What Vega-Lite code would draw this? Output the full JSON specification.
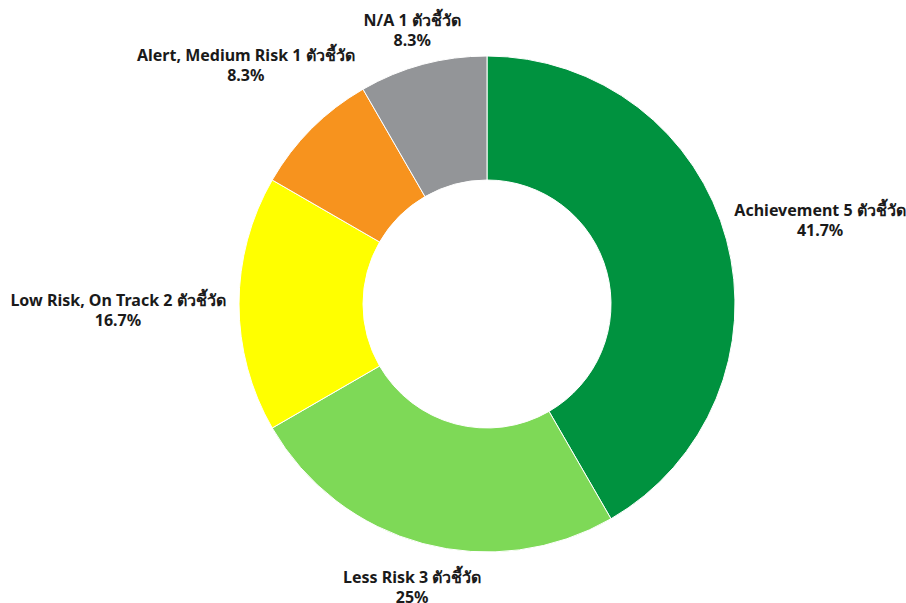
{
  "$schema": "https://vega.github.io/schema/vega-lite/v6.json",
  "width": 838,
  "height": 598,
  "padding": {"left": 68, "top": 5, "right": 0, "bottom": 0},
  "autosize": {"type": "none"},
  "background": "white",
  "config": {"view": {"stroke": null}},
  "data": {
    "values": [
      {"cat": "Achievement", "count": 5, "order": 1, "lines": ["Achievement 5 ตัวชี้วัด", "41.7%"]},
      {"cat": "Less Risk", "count": 3, "order": 2, "lines": ["Less Risk 3 ตัวชี้วัด", "25%"]},
      {"cat": "Low Risk, On Track", "count": 2, "order": 3, "lines": ["Low Risk, On Track 2 ตัวชี้วัด", "16.7%"]},
      {"cat": "Alert, Medium Risk", "count": 1, "order": 4, "lines": ["Alert, Medium Risk 1 ตัวชี้วัด", "8.3%"]},
      {"cat": "N/A", "count": 1, "order": 5, "lines": ["N/A 1 ตัวชี้วัด", "8.3%"]}
    ]
  },
  "transform": [
    {"stack": "count", "groupby": [], "sort": [{"field": "order", "order": "ascending"}], "as": ["t0", "t1"]},
    {"calculate": "(datum.t0 + datum.t1) / 2", "as": "tm"}
  ],
  "layer": [
    {
      "mark": {"type": "arc", "outerRadius": 248, "innerRadius": 124, "stroke": "white", "strokeWidth": 1},
      "encoding": {
        "theta": {"field": "t0", "type": "quantitative", "scale": {"domain": [0, 12]}},
        "theta2": {"field": "t1"},
        "color": {
          "field": "cat", "type": "nominal", "legend": null,
          "scale": {
            "domain": ["Achievement", "Less Risk", "Low Risk, On Track", "Alert, Medium Risk", "N/A"],
            "range": ["#00923F", "#7ED957", "#FFFF00", "#F7931E", "#939598"]
          }
        }
      }
    },
    {
      "transform": [{"filter": "datum.cat === 'Achievement'"}],
      "mark": {"type": "text", "radius": 262, "dx": 80, "dy": -25, "align": "center", "baseline": "middle", "font": "Noto Sans", "fontWeight": "bold", "fontSize": 16, "lineHeight": 20, "color": "#1a1a1a"},
      "encoding": {"theta": {"field": "tm", "type": "quantitative", "scale": {"domain": [0, 12]}}, "text": {"field": "lines"}}
    },
    {
      "transform": [{"filter": "datum.cat === 'Less Risk'"}],
      "mark": {"type": "text", "radius": 262, "dx": -7, "dy": 21, "align": "center", "baseline": "middle", "font": "Noto Sans", "fontWeight": "bold", "fontSize": 16, "lineHeight": 20, "color": "#1a1a1a"},
      "encoding": {"theta": {"field": "tm", "type": "quantitative", "scale": {"domain": [0, 12]}}, "text": {"field": "lines"}}
    },
    {
      "transform": [{"filter": "datum.cat === 'Low Risk, On Track'"}],
      "mark": {"type": "text", "radius": 262, "dx": -107, "dy": -3, "align": "center", "baseline": "middle", "font": "Noto Sans", "fontWeight": "bold", "fontSize": 16, "lineHeight": 20, "color": "#1a1a1a"},
      "encoding": {"theta": {"field": "tm", "type": "quantitative", "scale": {"domain": [0, 12]}}, "text": {"field": "lines"}}
    },
    {
      "transform": [{"filter": "datum.cat === 'Alert, Medium Risk'"}],
      "mark": {"type": "text", "radius": 262, "dx": -56, "dy": -63, "align": "center", "baseline": "middle", "font": "Noto Sans", "fontWeight": "bold", "fontSize": 16, "lineHeight": 20, "color": "#1a1a1a"},
      "encoding": {"theta": {"field": "tm", "type": "quantitative", "scale": {"domain": [0, 12]}}, "text": {"field": "lines"}}
    },
    {
      "transform": [{"filter": "datum.cat === 'N/A'"}],
      "mark": {"type": "text", "radius": 262, "dx": -7, "dy": -30, "align": "center", "baseline": "middle", "font": "Noto Sans", "fontWeight": "bold", "fontSize": 16, "lineHeight": 20, "color": "#1a1a1a"},
      "encoding": {"theta": {"field": "tm", "type": "quantitative", "scale": {"domain": [0, 12]}}, "text": {"field": "lines"}}
    }
  ]
}
